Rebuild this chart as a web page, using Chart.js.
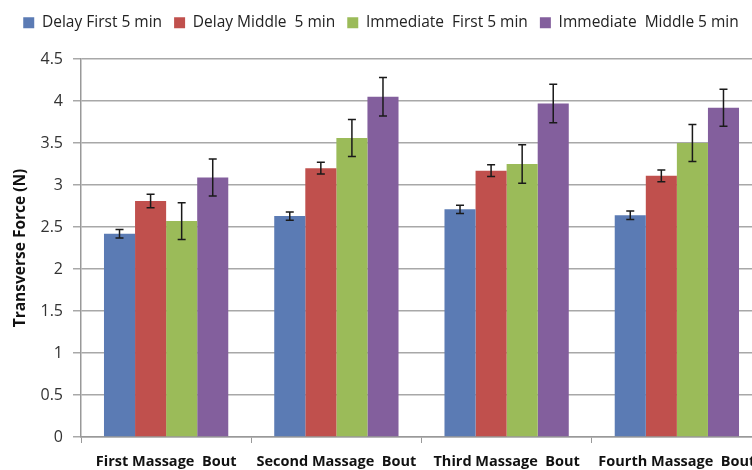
<!DOCTYPE html>
<html>
<head>
    <meta charset="UTF-8">
    <title>Transverse Force</title>
    <script src="https://cdn.jsdelivr.net/npm/chart.js@4.4.1/dist/chart.umd.min.js"></script>
</head>
<style>
    html, body { margin: 0; padding: 0; overflow: hidden; background: #fff; }
</style>
<body>
    <canvas id="chart" width="785" height="470"></canvas>

    <script>
        // data
        const bouts = ['First Massage  Bout', 'Second Massage  Bout', 'Third Massage  Bout', 'Fourth Massage  Bout'];
        const seriesNames = ['Delay First 5 min', 'Delay Middle  5 min', 'Immediate  First 5 min', 'Immediate  Middle 5 min'];
        const delayFirst = [2.42, 2.63, 2.71, 2.64];
        const delayMiddle = [2.81, 3.20, 3.17, 3.11];
        const immFirst = [2.57, 3.56, 3.25, 3.50];
        const immMiddle = [3.09, 4.05, 3.97, 3.92];
        const delayFirstErr = [0.05, 0.05, 0.05, 0.05];
        const delayMiddleErr = [0.08, 0.07, 0.07, 0.07];
        const immFirstErr = [0.22, 0.22, 0.23, 0.22];
        const immMiddleErr = [0.22, 0.23, 0.23, 0.22];
        const yTicks = [0, 0.5, 1, 1.5, 2, 2.5, 3, 3.5, 4, 4.5];

        const colors = ['#5b7bb4', '#c0504d', '#9bbb59', '#835f9d'];
        const values = [delayFirst, delayMiddle, immFirst, immMiddle];
        const errors = [delayFirstErr, delayMiddleErr, immFirstErr, immMiddleErr];
        const font = 'Open Sans';

        const errorBars = {
            id: 'errorBars',
            afterDatasetsDraw(chart) {
                const ctx = chart.ctx;
                const y = chart.scales.y;
                ctx.save();
                ctx.strokeStyle = '#1a1a1a';
                ctx.lineWidth = 1.5;
                chart.data.datasets.forEach((ds, i) => {
                    chart.getDatasetMeta(i).data.forEach((bar, j) => {
                        const v = ds.data[j], e = errors[i][j];
                        const top = y.getPixelForValue(v + e);
                        const bot = y.getPixelForValue(v - e);
                        ctx.beginPath();
                        ctx.moveTo(bar.x, top); ctx.lineTo(bar.x, bot);
                        ctx.moveTo(bar.x - 4, top); ctx.lineTo(bar.x + 4, top);
                        ctx.moveTo(bar.x - 4, bot); ctx.lineTo(bar.x + 4, bot);
                        ctx.stroke();
                    });
                });
                ctx.restore();
            }
        };

        // fixed legend height so the plot starts where the reference does
        const legendHeight = {
            id: 'legendHeight',
            beforeInit(chart) {
                const fit = chart.legend.fit;
                chart.legend.fit = function () { fit.call(this); this.height = 56; };
            }
        };

        new Chart(document.getElementById('chart'), {
            type: 'bar',
            data: {
                labels: bouts,
                datasets: values.map((v, i) => ({
                    label: seriesNames[i],
                    data: v,
                    backgroundColor: colors[i],
                    borderWidth: 0
                }))
            },
            options: {
                responsive: false,
                animation: false,
                layout: { padding: { left: 0, right: 23, top: 3, bottom: 0 } },
                datasets: { bar: { barPercentage: 1, categoryPercentage: 0.73 } },
                plugins: {
                    legend: {
                        position: 'top',
                        align: 'center',
                        labels: {
                            boxWidth: 11, boxHeight: 11, padding: 12,
                            color: '#222',
                            font: { family: font, size: 15.5 }
                        }
                    },
                    tooltip: { enabled: false }
                },
                scales: {
                    x: {
                        afterFit: s => { s.height = 33; },
                        grid: { offset: true, drawOnChartArea: false, color: '#999', tickLength: 6 },
                        border: { color: '#999', width: 1.5 },
                        ticks: { color: '#111', font: { family: font, size: 14.5, weight: 'bold' }, maxRotation: 0, padding: 10 }
                    },
                    y: {
                        min: 0, max: 4.5,
                        afterFit: s => { s.width = 81; },
                        afterBuildTicks: s => { s.ticks = yTicks.map(v => ({ value: v })); },
                        grid: { color: '#a8a8a8', lineWidth: 1.5, tickLength: 8 },
                        border: { color: '#999', width: 1.5 },
                        ticks: { color: '#333', font: { family: font, size: 16 }, padding: 10, callback: v => String(v) },
                        title: { display: true, text: 'Transverse Force (N)', color: '#111', font: { family: font, size: 15.5, weight: 'bold' }, padding: { top: 11, bottom: 0 } }
                    }
                }
            },
            plugins: [errorBars, legendHeight]
        });
    </script>
</body>
</html>
